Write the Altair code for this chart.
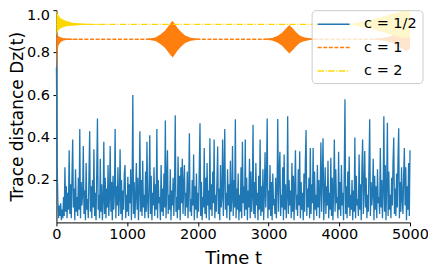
import altair as alt
import pandas as pd

# ---------------- data ----------------
LABELS = ["c = 1/2", "c = 1", "c = 2"]
COLORS = ["#1f77b4", "#ff7f0e", "#ffd700"]
DASHES = [[1, 0], [4, 1.6], [6.4, 1.6, 1, 1.6]]

X_TICKS = [0, 1000, 2000, 3000, 4000, 5000]
Y_TICKS = [0.2, 0.4, 0.6, 0.8, 1.0]

# c = 1/2 : trace distance sampled every 10 time units (t = 0 ... 5000)
BLUE_STEP = 10
BLUE = [
    0.73, 0.28, 0.10, 0.02, 0.08, 0.03, 0.09, 0.01, 0.06, 0.02,
    0.12, 0.03, 0.26, 0.05, 0.17, 0.02, 0.14, 0.06, 0.34, 0.04,
    0.18, 0.02, 0.22, 0.39, 0.07, 0.16, 0.01, 0.25, 0.05, 0.12,
    0.03, 0.21, 0.06, 0.44, 0.02, 0.19, 0.08, 0.13, 0.36, 0.04,
    0.15, 0.01, 0.28, 0.06, 0.11, 0.02, 0.23, 0.43, 0.05, 0.17,
    0.02, 0.20, 0.07, 0.345, 0.03, 0.14, 0.01, 0.24, 0.49, 0.06,
    0.13, 0.02, 0.30, 0.05, 0.18, 0.01, 0.10, 0.38, 0.04, 0.21,
    0.02, 0.16, 0.07, 0.27, 0.03, 0.12, 0.36, 0.05, 0.19, 0.01,
    0.22, 0.06, 0.14, 0.44, 0.02, 0.17, 0.08, 0.26, 0.03, 0.11,
    0.345, 0.04, 0.20, 0.01, 0.15, 0.06, 0.23, 0.27, 0.02, 0.13,
    0.05, 0.215, 0.03, 0.18, 0.09, 0.25, 0.01, 0.16, 0.60, 0.04,
    0.19, 0.02, 0.12, 0.28, 0.06, 0.21, 0.01, 0.15, 0.43, 0.05,
    0.20, 0.03, 0.29, 0.07, 0.13, 0.02, 0.24, 0.05, 0.38, 0.10,
    0.02, 0.17, 0.41, 0.04, 0.22, 0.01, 0.14, 0.08, 0.26, 0.03,
    0.18, 0.06, 0.44, 0.02, 0.20, 0.09, 0.12, 0.01, 0.27, 0.05,
    0.16, 0.03, 0.23, 0.07, 0.48, 0.02, 0.19, 0.34, 0.04, 0.13,
    0.06, 0.25, 0.01, 0.15, 0.08, 0.21, 0.03, 0.17, 0.505, 0.05,
    0.12, 0.02, 0.31, 0.06, 0.22, 0.01, 0.26, 0.09, 0.30, 0.04,
    0.18, 0.27, 0.03, 0.14, 0.07, 0.24, 0.02, 0.16, 0.42, 0.05,
    0.11, 0.03, 0.20, 0.08, 0.32, 0.01, 0.17, 0.06, 0.23, 0.02,
    0.14, 0.05, 0.26, 0.467, 0.03, 0.19, 0.01, 0.12, 0.07, 0.35,
    0.04, 0.21, 0.02, 0.28, 0.08, 0.15, 0.01, 0.396, 0.06, 0.18,
    0.03, 0.24, 0.09, 0.39, 0.02, 0.13, 0.05, 0.20, 0.357, 0.04,
    0.16, 0.01, 0.27, 0.07, 0.12, 0.39, 0.03, 0.22, 0.44, 0.06,
    0.14, 0.02, 0.25, 0.08, 0.18, 0.01, 0.29, 0.05, 0.11, 0.36,
    0.03, 0.20, 0.07, 0.486, 0.02, 0.16, 0.06, 0.23, 0.01, 0.13,
    0.05, 0.26, 0.02, 0.38, 0.09, 0.17, 0.03, 0.39, 0.06, 0.21,
    0.01, 0.15, 0.07, 0.30, 0.02, 0.24, 0.05, 0.12, 0.46, 0.04,
    0.19, 0.02, 0.28, 0.08, 0.14, 0.01, 0.22, 0.06, 0.39, 0.03,
    0.17, 0.05, 0.25, 0.01, 0.13, 0.33, 0.07, 0.20, 0.49, 0.02,
    0.15, 0.06, 0.27, 0.03, 0.19, 0.01, 0.23, 0.08, 0.11, 0.04,
    0.21, 0.02, 0.16, 0.487, 0.05, 0.24, 0.333, 0.03, 0.13, 0.07,
    0.26, 0.01, 0.32, 0.06, 0.18, 0.02, 0.12, 0.50, 0.04, 0.20,
    0.08, 0.15, 0.02, 0.28, 0.05, 0.22, 0.01, 0.17, 0.34, 0.06,
    0.13, 0.03, 0.25, 0.08, 0.335, 0.02, 0.19, 0.06, 0.14, 0.01,
    0.23, 0.05, 0.29, 0.435, 0.03, 0.16, 0.07, 0.21, 0.02, 0.35,
    0.04, 0.18, 0.09, 0.35, 0.01, 0.24, 0.06, 0.13, 0.03, 0.27,
    0.07, 0.20, 0.02, 0.15, 0.377, 0.05, 0.22, 0.396, 0.01, 0.12,
    0.26, 0.04, 0.17, 0.08, 0.29, 0.02, 0.14, 0.06, 0.305, 0.03,
    0.21, 0.01, 0.16, 0.39, 0.05, 0.25, 0.09, 0.12, 0.02, 0.333,
    0.06, 0.19, 0.03, 0.27, 0.08, 0.14, 0.01, 0.23, 0.58, 0.04,
    0.17, 0.02, 0.24, 0.07, 0.31, 0.03, 0.13, 0.06, 0.20, 0.01,
    0.15, 0.05, 0.40, 0.02, 0.22, 0.08, 0.11, 0.03, 0.32, 0.06,
    0.18, 0.01, 0.26, 0.39, 0.04, 0.16, 0.336, 0.07, 0.21, 0.02,
    0.13, 0.05, 0.28, 0.486, 0.03, 0.19, 0.08, 0.14, 0.30, 0.01,
    0.22, 0.06, 0.17, 0.02, 0.25, 0.09, 0.12, 0.04, 0.35, 0.07,
    0.20, 0.02, 0.15, 0.50, 0.05, 0.27, 0.01, 0.18, 0.47, 0.03,
    0.24, 0.06, 0.13, 0.02, 0.21, 0.08, 0.29, 0.40, 0.04, 0.16,
    0.03, 0.23, 0.07, 0.30, 0.443, 0.02, 0.19, 0.05, 0.26, 0.11,
    0.04, 0.22, 0.35, 0.08, 0.26, 0.01, 0.17, 0.06, 0.28, 0.03,
    0.34,
]

# c = 1 : mean level and oscillation envelope (collapse / revivals)
ORANGE_MEAN = 0.863
ORANGE_T = [0, 5, 15, 30, 60, 100, 160, 250, 400, 1250, 1400, 1470, 1530, 1580,
            1615, 1643, 1670, 1710, 1760, 1820, 1900, 2050, 2900, 3050, 3130,
            3190, 3240, 3293, 3340, 3390, 3440, 3500, 3600, 3800, 4450, 4650,
            4750, 4830, 4890, 4940, 4975, 5000]
ORANGE_HI = [0.863, 0.890, 0.885, 0.877, 0.872, 0.868, 0.866, 0.864, 0.863, 0.863,
             0.871, 0.885, 0.902, 0.923, 0.939, 0.949, 0.937, 0.917, 0.898, 0.881,
             0.870, 0.863, 0.863, 0.869, 0.879, 0.894, 0.911, 0.930, 0.915, 0.896,
             0.881, 0.872, 0.866, 0.863, 0.863, 0.871, 0.879, 0.893, 0.908, 0.918,
             0.913, 0.908]
ORANGE_LO = [0.730, 0.760, 0.810, 0.835, 0.850, 0.857, 0.860, 0.862, 0.863, 0.863,
             0.855, 0.841, 0.824, 0.803, 0.787, 0.777, 0.789, 0.809, 0.828, 0.845,
             0.856, 0.863, 0.863, 0.857, 0.847, 0.832, 0.815, 0.796, 0.811, 0.830,
             0.845, 0.854, 0.860, 0.863, 0.863, 0.855, 0.847, 0.833, 0.818, 0.808,
             0.813, 0.818]

# c = 2 : mean level and oscillation envelope
YELLOW_MEAN = 0.933
YELLOW_T = [0, 15, 30, 60, 100, 150, 230, 350, 500, 800, 4100, 4300, 4450,
            4600, 4750, 4850, 4950, 5000]
YELLOW_HI = [1.000, 0.985, 0.975, 0.962, 0.955, 0.948, 0.941, 0.937, 0.935, 0.933,
             0.933, 0.943, 0.955, 0.968, 0.983, 0.993, 0.998, 0.993]
YELLOW_LO = [0.880, 0.895, 0.905, 0.915, 0.920, 0.925, 0.927, 0.930, 0.931, 0.933,
             0.933, 0.923, 0.911, 0.898, 0.883, 0.873, 0.868, 0.873]

# ---------------- tables ----------------
blue_df = pd.DataFrame({
    "t": [i * BLUE_STEP for i in range(len(BLUE))],
    "v": BLUE,
    "series": LABELS[0],
})
mean_df = pd.DataFrame({
    "t": [0, 5000, 0, 5000],
    "v": [ORANGE_MEAN, ORANGE_MEAN, YELLOW_MEAN, YELLOW_MEAN],
    "series": [LABELS[1], LABELS[1], LABELS[2], LABELS[2]],
})
lines_df = pd.concat([blue_df, mean_df], ignore_index=True)
orange_df = pd.DataFrame({"t": ORANGE_T, "lo": ORANGE_LO, "hi": ORANGE_HI})
yellow_df = pd.DataFrame({"t": YELLOW_T, "lo": YELLOW_LO, "hi": YELLOW_HI})

x_enc = alt.X("t:Q", scale=alt.Scale(domain=[0, 5000], nice=False, zero=False),
              axis=alt.Axis(values=X_TICKS, format="d", title="Time t",
                            labelFlush=False))
y_scale = alt.Scale(domain=[0, 1.0], nice=False, zero=False)
y_axis = alt.Axis(values=Y_TICKS, format=".1f", title="Trace distance Dz(t)",
                  labelFlush=True, labelFlushOffset=1.5)

# legend line sample: a 32px stroke drawn from a 16px symbol slot
leg_kw = dict(
    title=None, orient="none", legendX=255.5, legendY=0,
    symbolType="M-1,0L3,0", symbolSize=256, symbolStrokeWidth=1.5,
    labelFontSize=14.5, labelFont="DejaVu Sans", labelColor="black",
    labelOffset=29.5, rowPadding=7.5, padding=5,
    fillColor="rgba(255,255,255,0.8)", strokeColor="#cccccc", cornerRadius=4,
)

orange_area = alt.Chart(orange_df).mark_area(color=COLORS[1], opacity=1).encode(
    x=x_enc, y=alt.Y("lo:Q", scale=y_scale, axis=y_axis), y2="hi:Q")
yellow_area = alt.Chart(yellow_df).mark_area(color=COLORS[2], opacity=1).encode(
    x=x_enc, y=alt.Y("lo:Q", scale=y_scale, axis=y_axis), y2="hi:Q")

lines = alt.Chart(lines_df).mark_line(strokeWidth=1.3).encode(
    x=x_enc,
    y=alt.Y("v:Q", scale=y_scale, axis=y_axis),
    color=alt.Color("series:N", scale=alt.Scale(domain=LABELS, range=COLORS),
                    sort=LABELS, legend=alt.Legend(**leg_kw)),
    strokeDash=alt.StrokeDash("series:N", scale=alt.Scale(domain=LABELS, range=DASHES),
                              sort=LABELS, legend=alt.Legend(**leg_kw)),
    detail="series:N",
)

chart = alt.layer(orange_area, yellow_area, lines).properties(
    width=354, height=212.5,
    padding={"left": 48.5, "top": 2, "right": 18, "bottom": 45.5},
    autosize=alt.AutoSizeParams(type="none"),
).configure_axis(
    domainColor="black", tickColor="black", labelColor="black", titleColor="black",
    labelFont="DejaVu Sans", titleFont="DejaVu Sans", labelFontSize=14.5,
    titleFontSize=18, titleFontWeight="normal", grid=False, tickSize=3.5,
    domainWidth=1, tickWidth=1,
).configure_axisY(titlePadding=0, labelPadding=3.5, titleFontSize=17).configure_axisX(
    titlePadding=9, labelPadding=1.5
).configure_view(strokeWidth=0)

chart.save("out.html", embed_options={"renderer": "svg", "actions": False})
